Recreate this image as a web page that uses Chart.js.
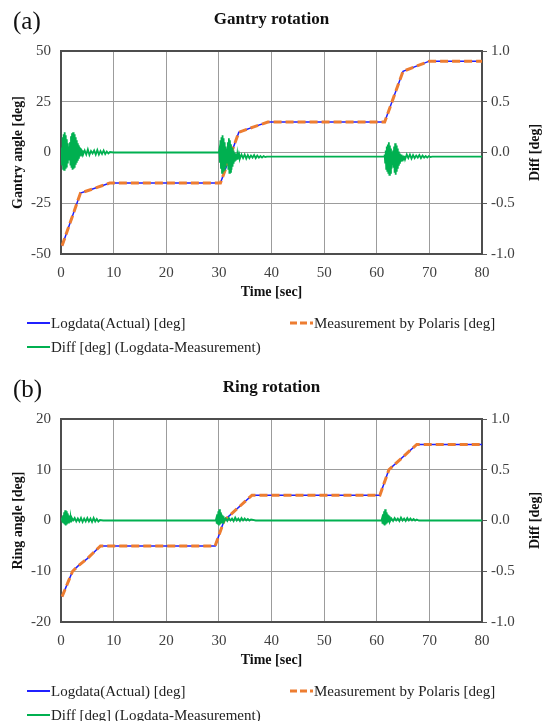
<!DOCTYPE html>
<html>
<head>
<meta charset="utf-8">
<script src="https://cdn.jsdelivr.net/npm/chart.js@4"></script>
<style>
html, body { margin: 0; padding: 0; background: #fff; }
canvas { display: block; position: absolute; left: 0; }
#gantry { top: 0; }
#ring { top: 368px; }
</style>
</head>
<body>
<canvas id="gantry" width="543" height="368"></canvas>
<canvas id="ring" width="543" height="353"></canvas>
<script>
// ---- data ----
const xTicks = [0, 10, 20, 30, 40, 50, 60, 70, 80];
const diffTicks = [-1.0, -0.5, 0.0, 0.5, 1.0];

// (a) gantry rotation
const gantryTicks = [-50, -25, 0, 25, 50];
const gantryT = [0.2, 3.7, 6.0, 9.3, 30.3, 33.8, 36.5, 39.3, 61.5, 65.0, 70.0, 80];
const gantryLog = [-46, -20, -18, -15, -15, 10, 12.5, 15, 15, 40, 45, 45];
const gantryMeas = [-46, -20, -18, -15, -15, 10, 12.5, 15, 15, 40, 45, 45];
const gantryDiffT = [
  0, 0.1, 0.2, 0.3, 0.4, 0.5, 0.6, 0.7, 0.8, 0.9, 1.0, 1.1, 1.2, 1.3, 1.4, 1.5, 1.6, 1.7, 1.8, 1.9, 2.0,
  2.1, 2.2, 2.3, 2.4, 2.5, 2.6, 2.7, 2.8, 2.9, 3.0, 3.1, 3.2, 3.3, 3.4, 3.5, 3.6, 3.7, 3.8, 3.9, 4.0, 4.1, 4.2,
  4.5, 4.8, 5.1, 5.4, 5.7, 6.0, 6.3, 6.6, 6.9, 7.2, 7.5, 7.8, 8.1, 8.4, 8.7, 9.0, 9.3, 10, 30,
  30.1, 30.2, 30.3, 30.4, 30.5, 30.6, 30.7, 30.8, 30.9, 31.0, 31.1, 31.2, 31.3, 31.4, 31.5, 31.6, 31.7, 31.8, 31.9, 32.0,
  32.1, 32.2, 32.3, 32.4, 32.5, 32.6, 32.7, 32.8, 32.9, 33.0, 33.1, 33.2, 33.3, 33.4, 33.5, 33.6, 33.7, 33.8, 33.9, 34.0,
  34.3, 34.6, 34.9, 35.2, 35.5, 35.8, 36.1, 36.4, 36.7, 37.0, 37.3, 37.6, 37.9, 38.2, 38.5, 38.8, 39.1, 40, 61.4,
  61.5, 61.6, 61.7, 61.8, 61.9, 62.0, 62.1, 62.2, 62.3, 62.4, 62.5, 62.6, 62.7, 62.8, 62.9, 63.0, 63.1, 63.2, 63.3, 63.4,
  63.5, 63.6, 63.7, 63.8, 63.9, 64.0, 64.1, 64.2, 64.3, 64.4, 64.5, 64.6, 64.7, 64.8, 64.9, 65.0, 65.1, 65.2, 65.3, 65.4,
  65.7, 66.0, 66.3, 66.6, 66.9, 67.2, 67.5, 67.8, 68.1, 68.4, 68.7, 69.0, 69.3, 69.6, 69.9, 70.2, 70.5, 71, 80
];
const gantryDiff = [
  0, 0.05, -0.12, 0.15, -0.16, 0.18, -0.17, 0.2, -0.15, 0.17, -0.14, 0.13, -0.1, 0.09, -0.07, 0.06, -0.05, 0.1, -0.12, 0.16, -0.15,
  0.19, -0.17, 0.2, -0.16, 0.18, -0.15, 0.15, -0.12, 0.12, -0.1, 0.09, -0.08, 0.07, -0.06, 0.05, -0.04, 0.04, -0.03, 0.03, -0.03, 0.02, -0.02,
  0.02, -0.02, 0.03, -0.025, 0.015, -0.01, 0.02, -0.02, 0.025, -0.02, 0.015, -0.015, 0.02, -0.015, 0.01, -0.01, 0.005, 0, 0,
  0.03, -0.1, 0.12, -0.16, 0.15, -0.2, 0.17, -0.18, 0.14, -0.17, 0.1, -0.14, 0.06, -0.1, 0.04, -0.08, 0.1, -0.16, 0.14, -0.2,
  0.12, -0.19, 0.08, -0.17, 0.05, -0.14, 0.02, -0.11, 0.0, -0.09, -0.01, -0.08, -0.02, -0.07, -0.02, -0.07, -0.03, -0.06, -0.03, -0.06,
  -0.02, -0.055, -0.02, -0.06, -0.025, -0.055, -0.03, -0.05, -0.025, -0.055, -0.03, -0.05, -0.035, -0.05, -0.035, -0.045, -0.04, -0.04, -0.04,
  -0.02, -0.1, 0.02, -0.16, 0.06, -0.18, 0.08, -0.2, 0.1, -0.22, 0.07, -0.2, 0.04, -0.16, 0.0, -0.12, 0.02, -0.15, 0.06, -0.2,
  0.09, -0.22, 0.07, -0.19, 0.04, -0.16, 0.01, -0.13, -0.01, -0.11, -0.02, -0.09, -0.02, -0.08, -0.03, -0.07, -0.03, -0.07, -0.035, -0.065,
  -0.02, -0.055, -0.02, -0.06, -0.025, -0.055, -0.03, -0.05, -0.025, -0.055, -0.03, -0.05, -0.035, -0.05, -0.035, -0.045, -0.04, -0.04, -0.04
];

// (b) ring rotation
const ringTicks = [-20, -10, 0, 10, 20];
const ringT = [0.2, 2.2, 3.2, 5.0, 7.5, 29.3, 31.0, 36.3, 60.6, 62.3, 67.6, 80];
const ringLog = [-15, -10, -9, -7.5, -5, -5, 0, 5, 5, 10, 15, 15];
const ringMeas = [-15, -10, -9, -7.5, -5, -5, 0, 5, 5, 10, 15, 15];
const ringDiffT = [
  0, 0.2, 0.3, 0.4, 0.5, 0.6, 0.7, 0.8, 0.9, 1.0, 1.1, 1.2, 1.3, 1.4, 1.5, 1.6, 1.7, 1.8, 1.9, 2.0,
  2.3, 2.6, 2.9, 3.2, 3.5, 3.8, 4.1, 4.4, 4.7, 5.0, 5.3, 5.6, 5.9, 6.2, 6.5, 6.8, 7.1, 7.4, 8, 29.4,
  29.5, 29.6, 29.7, 29.8, 29.9, 30.0, 30.1, 30.2, 30.3, 30.4, 30.5, 30.6, 30.7, 30.8, 30.9, 31.0,
  31.3, 31.6, 31.9, 32.2, 32.5, 32.8, 33.1, 33.4, 33.7, 34.0, 34.3, 34.6, 34.9, 35.2, 35.5, 35.8, 36.1, 37, 60.9,
  61.0, 61.1, 61.2, 61.3, 61.4, 61.5, 61.6, 61.7, 61.8, 61.9, 62.0, 62.1, 62.2, 62.3, 62.4, 62.5,
  62.8, 63.1, 63.4, 63.7, 64.0, 64.3, 64.6, 64.9, 65.2, 65.5, 65.8, 66.1, 66.4, 66.7, 67.0, 67.3, 67.6, 68, 80
];
const ringDiff = [
  0, 0.02, -0.02, 0.05, -0.03, 0.08, -0.04, 0.1, -0.05, 0.09, -0.04, 0.07, -0.03, 0.05, -0.03, 0.04, -0.02, 0.03, -0.02, 0.03,
  0.0, 0.025, -0.01, 0.02, -0.01, 0.025, -0.015, 0.02, -0.01, 0.025, -0.01, 0.02, -0.015, 0.025, -0.01, 0.015, -0.01, 0.005, 0, 0,
  0.02, -0.03, 0.06, -0.04, 0.09, -0.05, 0.11, -0.04, 0.08, -0.03, 0.06, -0.02, 0.05, -0.02, 0.04, -0.01,
  0.02, -0.005, 0.025, 0.0, 0.02, -0.005, 0.03, 0.0, 0.02, -0.005, 0.025, 0.0, 0.02, 0.0, 0.015, 0.0, 0.01, 0, 0,
  0.02, -0.03, 0.06, -0.04, 0.09, -0.05, 0.11, -0.04, 0.08, -0.03, 0.06, -0.02, 0.05, -0.02, 0.04, -0.01,
  0.02, -0.005, 0.025, 0.0, 0.02, -0.005, 0.03, 0.0, 0.02, -0.005, 0.025, 0.0, 0.02, 0.0, 0.015, 0.0, 0.01, 0, 0
];

// ---- styling ----
const SERIF = '"Liberation Serif", "Times New Roman", serif';
const TICK_COLOR = '#404040';
const GRID_COLOR = '#9c9c9c';

function toXY(xs, ys) {
  return xs.map((x, i) => ({ x: x, y: ys[i] }));
}

// frame, titles and the Excel-like legend under the plot
const decor = {
  id: 'decor',
  beforeDatasetsDraw(chart) {
    const a = chart.chartArea;
    const ctx = chart.ctx;
    ctx.save();
    ctx.strokeStyle = '#4d4d4d';
    ctx.lineWidth = 2;
    ctx.strokeRect(a.left, a.top, a.right - a.left, a.bottom - a.top);
    ctx.restore();
  },
  afterDraw(chart, args, o) {
    const a = chart.chartArea;
    const ctx = chart.ctx;
    const midX = (a.left + a.right) / 2;
    const midY = (a.top + a.bottom) / 2;
    ctx.save();
    ctx.fillStyle = '#111';
    ctx.textBaseline = 'middle';

    ctx.font = '25px ' + SERIF;
    ctx.textAlign = 'left';
    ctx.fillText(o.tag, 13, 22);

    ctx.font = 'bold 17px ' + SERIF;
    ctx.textAlign = 'center';
    ctx.fillText(o.title, midX, 20);

    ctx.font = 'bold 14px ' + SERIF;
    ctx.fillText('Time [sec]', midX, a.bottom + 38);
    ctx.save();
    ctx.translate(18, midY);
    ctx.rotate(-Math.PI / 2);
    ctx.fillText(o.yTitle, 0, 0);
    ctx.restore();
    ctx.save();
    ctx.translate(535, midY);
    ctx.rotate(-Math.PI / 2);
    ctx.fillText('Diff [deg]', 0, 0);
    ctx.restore();

    // legend
    const ds = chart.data.datasets;
    const items = [
      { d: ds[2], x: 27, y: a.bottom + 69 },
      { d: ds[1], x: 290, y: a.bottom + 69 },
      { d: ds[0], x: 27, y: a.bottom + 93 }
    ];
    ctx.font = '15px ' + SERIF;
    ctx.textAlign = 'left';
    items.forEach(it => {
      ctx.save();
      ctx.strokeStyle = it.d.borderColor;
      ctx.lineWidth = it.d.borderDash ? 3 : 2;
      ctx.setLineDash(it.d.borderDash ? [7, 3] : []);
      ctx.beginPath();
      ctx.moveTo(it.x, it.y);
      ctx.lineTo(it.x + 23, it.y);
      ctx.stroke();
      ctx.restore();
      ctx.fillStyle = '#222';
      ctx.fillText(it.d.label, it.x + 24, it.y + 1);
    });
    ctx.restore();
  }
};

function makeChart(id, cfg) {
  const canvas = document.getElementById(id);
  const H = canvas.height;
  const tickFont = { family: SERIF, size: 15 };
  return new Chart(canvas, {
    type: 'line',
    data: {
      datasets: [
        {
          label: 'Diff [deg] (Logdata-Measurement)',
          data: toXY(cfg.diffT, cfg.diff),
          yAxisID: 'y2',
          borderColor: '#00b050',
          borderWidth: 1.8,
          pointRadius: 0
        },
        {
          label: 'Measurement by Polaris [deg]',
          data: toXY(cfg.t, cfg.meas),
          yAxisID: 'y',
          borderColor: '#ed7d31',
          borderWidth: 3,
          borderDash: [8, 4],
          pointRadius: 0
        },
        {
          label: 'Logdata(Actual) [deg]',
          data: toXY(cfg.t, cfg.log),
          yAxisID: 'y',
          borderColor: '#2020ff',
          borderWidth: 1.5,
          pointRadius: 0
        }
      ]
    },
    options: {
      responsive: false,
      animation: false,
      devicePixelRatio: 1,
      layout: { padding: { top: 51, bottom: H - 254 - 30, left: 0, right: 0 } },
      plugins: {
        legend: { display: false },
        tooltip: { enabled: false },
        decor: cfg.text
      },
      scales: {
        x: {
          type: 'linear',
          min: xTicks[0],
          max: xTicks[xTicks.length - 1],
          afterBuildTicks: s => { s.ticks = xTicks.map(v => ({ value: v })); },
          ticks: { font: tickFont, color: TICK_COLOR, padding: 10, maxRotation: 0 },
          grid: { color: GRID_COLOR, drawTicks: false },
          border: { display: false },
          afterFit: s => { s.height = 30; }
        },
        y: {
          position: 'left',
          min: cfg.ticks[0],
          max: cfg.ticks[cfg.ticks.length - 1],
          afterBuildTicks: s => { s.ticks = cfg.ticks.map(v => ({ value: v })); },
          ticks: { font: tickFont, color: TICK_COLOR, padding: 10 },
          grid: { color: GRID_COLOR, drawTicks: false },
          border: { display: false },
          afterFit: s => { s.width = 61; }
        },
        y2: {
          position: 'right',
          min: diffTicks[0],
          max: diffTicks[diffTicks.length - 1],
          afterBuildTicks: s => { s.ticks = diffTicks.map(v => ({ value: v })); },
          ticks: { font: tickFont, color: TICK_COLOR, padding: 4, callback: v => Number(v).toFixed(1) },
          grid: { drawOnChartArea: false, drawTicks: true, tickLength: 5, color: '#595959' },
          border: { display: false },
          afterFit: s => { s.width = 61; }
        }
      }
    },
    plugins: [decor]
  });
}

makeChart('gantry', {
  t: gantryT, log: gantryLog, meas: gantryMeas,
  diffT: gantryDiffT, diff: gantryDiff, ticks: gantryTicks,
  text: { tag: '(a)', title: 'Gantry rotation', yTitle: 'Gantry angle [deg]' }
});

makeChart('ring', {
  t: ringT, log: ringLog, meas: ringMeas,
  diffT: ringDiffT, diff: ringDiff, ticks: ringTicks,
  text: { tag: '(b)', title: 'Ring rotation', yTitle: 'Ring angle [deg]' }
});
</script>
</body>
</html>
